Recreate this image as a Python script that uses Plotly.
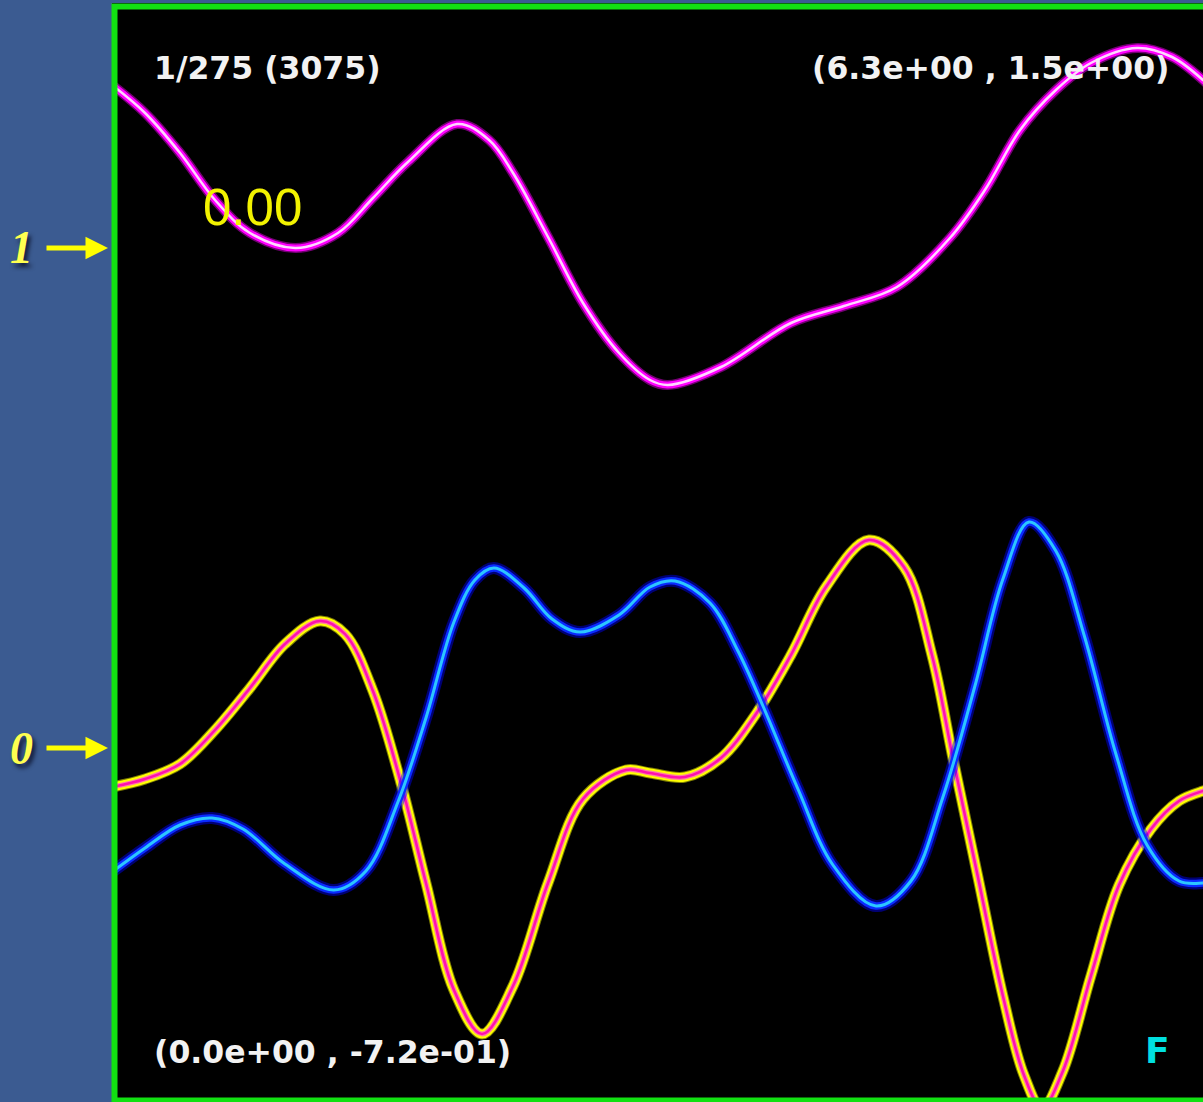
import plotly.graph_objects as go

# ---- data ----
x_magenta = [0.0, 0.189, 0.389, 0.589, 0.789, 1.052, 1.292, 1.492, 1.692, 1.973, 2.156, 2.293,
             2.493, 2.693, 2.899, 3.076, 3.179, 3.482, 3.882, 4.185, 4.488, 4.791, 4.991, 5.192,
             5.397, 5.597, 5.861, 6.061, 6.238, 6.283]
y_magenta = [1.326, 1.270, 1.190, 1.096, 1.030, 1.000, 1.030, 1.100, 1.172, 1.248, 1.216, 1.150,
             1.022, 0.890, 0.790, 0.736, 0.726, 0.762, 0.850, 0.884, 0.922, 1.020, 1.116, 1.236,
             1.316, 1.370, 1.400, 1.382, 1.336, 1.320]

x_blue = [0.0, 0.189, 0.389, 0.572, 0.749, 0.989, 1.269, 1.452, 1.635, 1.795, 1.955, 2.075,
          2.184, 2.356, 2.516, 2.676, 2.899, 3.076, 3.219, 3.419, 3.579, 3.722, 3.922, 4.122,
          4.368, 4.568, 4.751, 4.934, 5.094, 5.243, 5.397, 5.558, 5.740, 5.918, 6.101, 6.238, 6.283]
y_blue = [-0.248, -0.200, -0.154, -0.140, -0.162, -0.232, -0.284, -0.246, -0.108, 0.060, 0.252, 0.336,
          0.360, 0.320, 0.258, 0.232, 0.266, 0.322, 0.334, 0.290, 0.194, 0.084, -0.082, -0.234,
          -0.316, -0.266, -0.098, 0.124, 0.338, 0.452, 0.394, 0.226, -0.012, -0.194, -0.266, -0.270, -0.268]

x_yellow = [0.0, 0.189, 0.389, 0.589, 0.789, 0.989, 1.189, 1.332, 1.492, 1.652, 1.795, 1.955,
            2.116, 2.293, 2.493, 2.693, 2.939, 3.076, 3.276, 3.482, 3.682, 3.882, 4.082, 4.328,
            4.528, 4.688, 4.808, 4.951, 5.094, 5.214, 5.317, 5.437, 5.597, 5.758, 5.941, 6.101,
            6.238, 6.283]
y_yellow = [-0.078, -0.062, -0.032, 0.036, 0.120, 0.208, 0.254, 0.228, 0.114, -0.070, -0.270, -0.484,
            -0.572, -0.476, -0.270, -0.102, -0.044, -0.050, -0.058, -0.020, 0.068, 0.186, 0.322, 0.416,
            0.362, 0.186, -0.020, -0.258, -0.496, -0.654, -0.720, -0.646, -0.456, -0.274, -0.162, -0.106,
            -0.086, -0.082]

marker_levels = [1, 0]
marker_labels = ["1", "0"]
frame_label = "1/275 (3075)"
max_label = "(6.3e+00 , 1.5e+00)"
min_label = "(0.0e+00 , -7.2e-01)"
value_label = "0.00"
mode_label = "F"

W, H = 1203, 1102
fig = go.Figure()


def glow(x, y, layers):
    for color, width in layers:
        fig.add_trace(go.Scatter(x=x, y=y, mode="lines",
                                 line=dict(color=color, width=width, shape="spline", smoothing=1.0),
                                 hoverinfo="skip", showlegend=False))


glow(x_magenta, y_magenta, [("rgba(255,0,255,0.45)", 10), ("#ff00ff", 7), ("#ffd6ff", 2.5)])
glow(x_yellow, y_yellow, [("rgba(255,255,0,0.5)", 11), ("#ffff00", 9), ("#ff80a0", 5), ("#ff10b0", 2.5)])
glow(x_blue, y_blue, [("rgba(0,0,255,0.45)", 12), ("#0a2aff", 7.5), ("#2cc6ff", 3)])

ann = []
txt = dict(family="DejaVu Sans", size=31.5, color="#f2f2f2", weight="bold")
ann.append(dict(xref="paper", yref="paper", x=152 / W, y=1 - 68 / H, xanchor="left", yanchor="middle",
                text=frame_label, showarrow=False, font=txt))
ann.append(dict(xref="paper", yref="paper", x=1171 / W, y=1 - 68 / H, xanchor="right", yanchor="middle",
                text=max_label, showarrow=False, font=txt))
ann.append(dict(xref="paper", yref="paper", x=152 / W, y=1 - 1052 / H, xanchor="left", yanchor="middle",
                text=min_label, showarrow=False, font=txt))
ann.append(dict(xref="paper", yref="paper", x=201 / W, y=1 - 207 / H, xanchor="left", yanchor="middle",
                text=value_label, showarrow=False,
                font=dict(family="Liberation Sans", size=51, color="#f2f200")))
ann.append(dict(xref="paper", yref="paper", x=1143 / W, y=1 - 1050 / H, xanchor="left", yanchor="middle",
                text=mode_label, showarrow=False,
                font=dict(family="DejaVu Sans", size=36, color="#00e0e0", weight="bold")))

for lvl, lab in zip(marker_levels, marker_labels):
    ann.append(dict(xref="paper", yref="y", x=21 / W, y=lvl, xanchor="center", yanchor="middle",
                    text="<b><i>" + lab + "</i></b>", showarrow=False,
                    font=dict(family="Liberation Serif", size=46, color="#ffff50",
                              shadow="3px 4px 4px rgba(0,0,20,0.7)")))
    ann.append(dict(xref="paper", yref="y", x=108 / W, y=lvl, axref="pixel", ayref="pixel",
                    ax=-63, ay=0, text="", showarrow=True, arrowhead=2, arrowsize=0.9,
                    arrowwidth=5, arrowcolor="#ffff00"))

fig.update_layout(
    width=W, height=H,
    margin=dict(l=0, r=0, t=0, b=0),
    paper_bgcolor="#3b5b91",
    plot_bgcolor="#000000",
    xaxis=dict(domain=[112 / W, 1], range=[0, 6.238], visible=False, fixedrange=True),
    yaxis=dict(domain=[0, 1 - 3 / H], range=[-0.708, 1.49], visible=False, fixedrange=True),
    annotations=ann,
    shapes=[dict(type="rect", xref="paper", yref="paper", layer="above",
                 x0=114.5 / W, x1=1.05, y0=1 - 1100.5 / H, y1=1 - 6.5 / H,
                 line=dict(color="#12e012", width=6))],
    showlegend=False,
)

fig.write_html("out.html",
               config={"displayModeBar": False},
               post_script="document.body.style.margin='0';document.body.style.overflow='hidden';")
